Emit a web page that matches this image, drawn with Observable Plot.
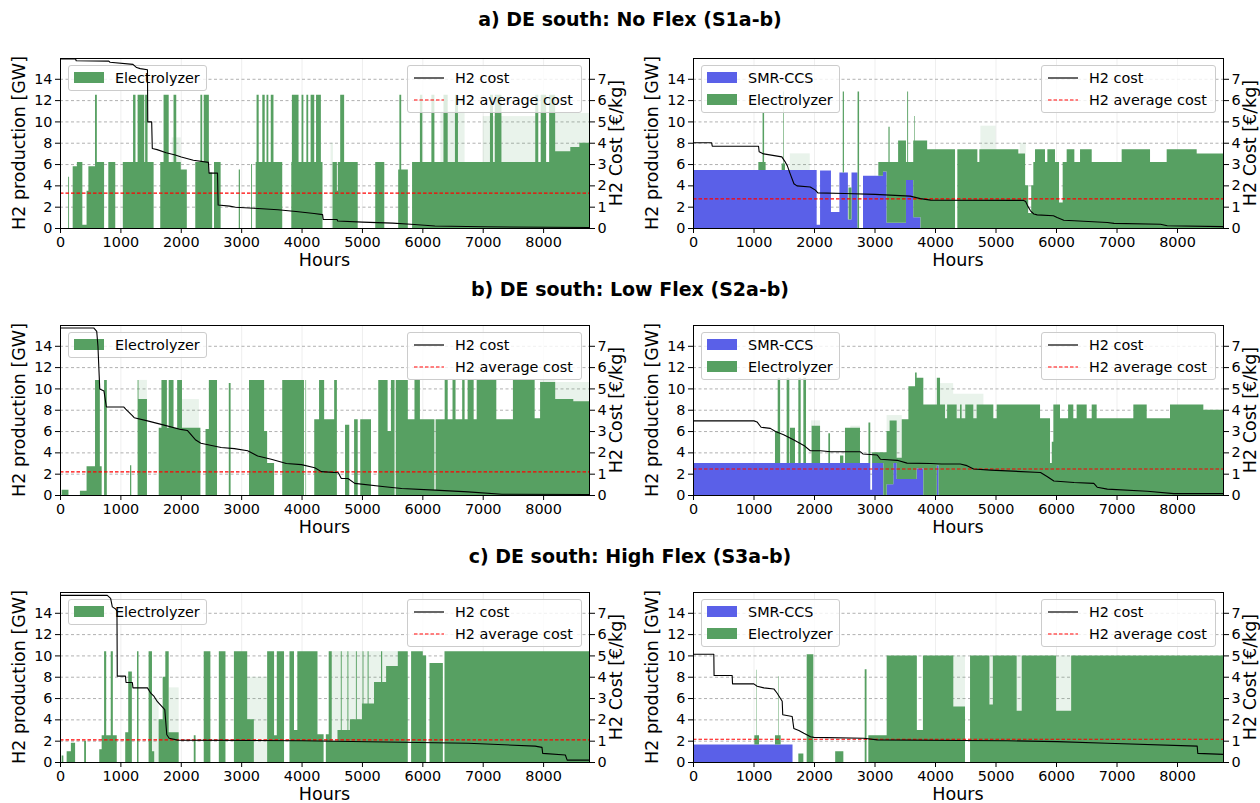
<!DOCTYPE html>
<html><head><meta charset="utf-8">
<script src="https://cdn.jsdelivr.net/npm/d3@7"></script>
<script src="https://cdn.jsdelivr.net/npm/@observablehq/plot@0.6"></script>
<style>
body{margin:0;background:#fff;}
#fig{position:relative;width:1260px;height:803px;overflow:hidden;font-family:"DejaVu Sans",sans-serif;color:#000;background:#fff;}
.title{position:absolute;left:0;width:1260px;text-align:center;font-weight:bold;font-size:19px;line-height:1;}
.ylab{position:absolute;font-size:17.5px;white-space:nowrap;transform:translate(-50%,-50%) rotate(-90deg);line-height:1;}
.xlab{position:absolute;font-size:17.5px;transform:translate(-50%,-50%);white-space:nowrap;line-height:1;}
.legend{position:absolute;background:rgba(255,255,255,0.8);border:1px solid #cccccc;border-radius:3px;box-sizing:border-box;font-size:14.4px;}
.legend .txt{position:absolute;white-space:nowrap;line-height:1;transform:translateY(-50%);}
.legend .patch{position:absolute;width:30px;height:11px;}
.legend svg{position:absolute;overflow:visible;}
</style>
</head><body>
<div id="fig"></div>
<script>
// ---------- axis / tick data ----------
const HOURS_MAX = 8760;
const GW_MAX = 15.95;
const COST_MAX = GW_MAX / 2;
const hourTicks = [0, 1000, 2000, 3000, 4000, 5000, 6000, 7000, 8000];
const gwTicks = [0, 2, 4, 6, 8, 10, 12, 14];
const costTicks = [0, 1, 2, 3, 4, 5, 6, 7];
const techs = ["SMR-CCS", "Electrolyzer"];
const techColors = ["rgb(90,96,232)", "rgb(87,160,98)"];
const titles = ["a) DE south: No Flex (S1a-b)", "b) DE south: Low Flex (S2a-b)", "c) DE south: High Flex (S3a-b)"];

// ---------- S1a (No Flex, electrolyzer only) : [hour, GW] step starts ----------
const s1aElectrolyzer = [[0,0],[135,4.8],[150,0],[210,5.8],[280,6.2],[370,0.3],[440,3.5],[470,5.8],[580,12.5],[610,6.2],[730,0],[800,6.2],[915,0],[1040,6.2],[1210,12.5],[1250,6.2],[1285,12.5],[1395,6.2],[1410,12.5],[1450,6.2],[1550,0],[1660,6.2],[1715,12.5],[1800,6.2],[1880,12.5],[1925,6.2],[2000,5.5],[2100,0],[2240,6.2],[2325,12.5],[2355,6.2],[2380,12.5],[2465,5.2],[2520,0],[2550,6.2],[2660,0],[2960,5.5],[2980,0],[3165,6.0],[3180,0],[3240,6.2],[3255,12.5],[3290,6.2],[3350,12.5],[3390,6.2],[3420,12.5],[3450,6.2],[3490,12.5],[3535,6.2],[3680,0],[3830,6.2],[3840,12.5],[3950,6.2],[4000,12.5],[4030,6.2],[4080,12.5],[4110,6.2],[4150,12.5],[4210,6.2],[4240,12.5],[4320,6.2],[4347,0],[4513,6.2],[4585,3.5],[4600,6.2],[4640,12.5],[4705,6.2],[4930,0],[5220,6.2],[5370,0],[5600,5.5],[5620,12.5],[5650,5.5],[5760,0],[5830,6.2],[5960,12.5],[6000,6.2],[6150,12.5],[6200,6.2],[6350,12.5],[6420,6.2],[6540,12.5],[6590,6.2],[7120,12.5],[7170,6.2],[7200,12.5],[7310,6.2],[7870,12.5],[7920,6.2],[7960,12.5],[8050,6.2],[8100,12.5],[8200,7.2],[8450,7.6],[8600,8.0]];
const s1aSMR = [[0,0]];
const s1aHaze = [[6300,6700,11],[7000,7900,10.5],[8200,8760,10.8],[1850,2000,8.5],[4480,4520,8]];
const s1aCost = [[0,7.95],[250,7.95],[260,7.87],[800,7.85],[820,7.8],[1200,7.7],[1260,7.55],[1320,7.5],[1440,7.45],[1445,5.0],[1510,5.0],[1520,3.75],[1600,3.7],[1750,3.55],[1900,3.45],[2000,3.35],[2200,3.2],[2450,3.1],[2460,2.6],[2600,2.6],[2610,1.1],[2800,1.05],[2900,1.0],[3200,0.95],[3600,0.88],[3900,0.8],[4200,0.7],[4340,0.65],[4350,0.43],[4580,0.42],[4590,0.35],[5000,0.3],[5500,0.25],[5800,0.2],[6200,0.12],[7000,0.08],[8760,0.05]];
const s1aAvg = 1.66;

// ---------- S1b ----------
const s1bSMR = [[0,5.45],[2044,0.3],[2100,5.4],[2280,1.5],[2420,5.2],[2560,0.8],[2620,5.2],[2720,0],[2810,4.9],[3140,5.3],[3200,0.5],[3520,4.5],[3640,1.0],[3760,0]];
const s1bElectrolyzer = [[0,0],[1080,0.75],[1150,5.35],[1175,0.75],[1200,0],[1465,0.6],[1490,7.35],[1500,0.6],[1520,0],[2475,7.6],[2495,0],[2570,3.0],[2620,0],[2720,12.8],[2745,0],[3063,1.3],[3140,0.9],[3200,5.7],[3230,9.0],[3250,5.7],[3390,7.7],[3520,1.7],[3540,8.3],[3555,1.7],[3640,7.2],[3655,9.5],[3665,7.2],[3760,8.2],[3870,7.4],[4331,0],[4369,7.4],[4700,6.2],[4733,7.4],[5377,7.0],[5488,4.0],[5540,1.4],[5590,4.0],[5625,6.2],[5653,7.4],[5818,6.2],[5857,7.4],[5983,6.2],[6050,2.4],[6110,6.2],[6176,7.4],[6303,6.2],[6397,7.4],[6590,6.2],[7085,7.4],[7554,6.2],[7829,7.4],[8325,7.0]];
const s1bHaze = [[4750,5000,9.6],[5400,5500,8],[1600,1930,7]];
const s1bCost = [[0,4.02],[300,4.02],[310,3.86],[1075,3.86],[1085,3.6],[1160,3.5],[1460,3.36],[1520,3.1],[1550,2.95],[1600,2.55],[1660,2.1],[1710,2.0],[1930,1.95],[2015,1.8],[2055,1.67],[2500,1.64],[3000,1.6],[3580,1.52],[3750,1.4],[3920,1.33],[5450,1.32],[5490,1.27],[5525,1.05],[5570,0.83],[5625,0.68],[5680,0.64],[5950,0.6],[6010,0.52],[6120,0.39],[6290,0.36],[6840,0.28],[6950,0.24],[7720,0.2],[7830,0.13],[8760,0.09]];
const s1bAvg = 1.39;

// ---------- S2a ----------
const s2aElectrolyzer = [[0,0],[28,0.5],[140,0],[330,0.4],[440,2.7],[580,10.8],[660,2.7],[690,0],[730,10.8],[775,0],[1160,2.8],[1180,0],[1285,10.8],[1300,9.0],[1440,0],[1635,6.3],[1680,10.8],[1770,6.3],[1800,10.8],[1880,6.3],[1940,10.8],[2020,6.3],[2325,0],[2410,6.2],[2465,10.8],[2600,0],[2795,10.5],[2825,0],[3130,10.8],[3380,6.0],[3430,3.0],[3545,0],[3680,10.8],[4040,0],[4065,10.8],[4075,0],[4210,7.1],[4290,10.8],[4374,7.1],[4540,10.8],[4585,0],[4720,6.6],[4790,0],[4870,7.1],[4930,0],[4972,7.1],[5150,0],[5270,10.8],[5425,6.0],[5480,10.8],[5540,0],[5560,10.8],[5760,7.1],[5870,10.8],[5960,7.1],[6200,0.5],[6220,7.1],[6370,10.8],[6420,7.1],[6500,10.8],[6550,7.1],[6660,10.8],[6700,7.1],[6750,10.8],[6850,7.1],[6900,10.8],[7225,7.1],[7500,10.8],[7860,7.2],[7950,10.6],[8200,9.0],[8500,8.8]];
const s2aSMR = [[0,0]];
const s2aHaze = [[1300,1440,10.8],[2020,2300,9],[7950,8200,10.8],[8200,8760,10.6]];
const s2aCost = [[0,7.86],[550,7.86],[600,7.7],[620,7.0],[650,5.0],[720,4.9],[760,4.15],[1050,4.15],[1080,4.05],[1190,3.75],[1220,3.65],[1440,3.5],[1716,3.3],[1990,3.1],[2100,3.05],[2240,2.6],[2325,2.45],[2660,2.25],[2880,2.2],[3100,2.1],[3265,1.85],[3490,1.7],[3740,1.5],[3990,1.45],[4210,1.3],[4320,1.12],[4600,1.07],[4650,0.8],[4760,0.8],[4873,0.57],[5370,0.41],[5650,0.33],[6200,0.25],[6750,0.17],[7310,0.06],[8760,0.05]];
const s2aAvg = 1.11;

// ---------- S2b ----------
const s2bSMR = [[0,3.0],[2930,0.5],[2960,3.0],[3146,0],[3200,1.0],[3311,3.0],[3366,1.5],[3697,2.5],[3807,0],[4030,2.8],[4060,0]];
const s2bElectrolyzer = [[0,0],[1355,3.0],[1400,8.0],[1440,0],[1548,8.0],[1592,0],[1603,3.3],[1686,0],[1741,8.0],[1780,0],[1824,8.0],[1868,0],[1961,3.5],[2100,0],[2237,2.8],[2265,0],[2430,0.7],[2485,0],[2512,3.3],[2760,0],[2900,3.8],[2930,0],[2960,1.0],[3146,4.0],[3200,5.0],[3250,6.0],[3311,4.0],[3366,2.0],[3450,5.6],[3560,8.7],[3670,10.0],[3697,8.5],[3807,8.5],[4030,8.2],[4060,11.0],[4083,8.5],[4165,7.2],[4200,8.5],[4358,7.2],[4413,8.5],[4440,7.2],[4500,8.5],[4633,7.2],[4688,8.5],[4964,7.2],[5019,8.5],[5736,7.2],[5901,3.0],[5930,5.0],[5956,8.5],[6066,7.2],[6200,8.5],[6286,7.2],[6341,8.5],[6507,7.2],[6590,8.5],[6672,7.2],[7278,8.5],[7499,7.2],[7884,8.5],[8435,8.0]];
const s2bHaze = [[4083,4300,10.5],[4300,4800,9.5],[1950,2100,7],[2600,2760,6.5],[3200,3450,7.5]];
const s2bCost = [[0,3.5],[1000,3.5],[1050,3.45],[1118,3.2],[1270,3.15],[1355,3.0],[1490,2.85],[1660,2.6],[1824,2.35],[1930,2.1],[2100,2.1],[2265,2.05],[2760,2.05],[2800,1.95],[3036,1.9],[3090,1.7],[3366,1.65],[3530,1.52],[3920,1.5],[4100,1.48],[4410,1.48],[4520,1.4],[4630,1.24],[4910,1.19],[5736,1.08],[5850,0.88],[5956,0.68],[6290,0.61],[6617,0.57],[6672,0.39],[6840,0.3],[7500,0.2],[7940,0.09],[8760,0.09]];
const s2bAvg = 1.24;

// ---------- S3a ----------
const s3aElectrolyzer = [[0,0],[28,0.6],[55,0],[110,1.0],[180,1.8],[250,0],[400,2.0],[430,0],[650,1.2],[690,2.5],[730,10.4],[765,2.5],[840,10.4],[875,2.5],[940,0],[1080,2.8],[1130,8.5],[1190,0],[1275,10.4],[1300,0],[1467,10.4],[1523,1.0],[1560,0],[1633,4.0],[1700,8.0],[1744,10.4],[1800,2.8],[1965,0],[2215,2.5],[2245,0],[2380,10.4],[2490,0],[2630,10.4],[2740,0],[2880,10.4],[3100,4.0],[3210,0],[3430,10.4],[3545,2.5],[3590,10.4],[3710,0],[3800,10.4],[3875,3.0],[3930,10.4],[4264,2.6],[4365,0],[4402,2.6],[4450,10.4],[4500,2.0],[4595,3.0],[4650,10.4],[4665,3.0],[4760,10.4],[4775,3.0],[4800,4.0],[4900,10.4],[4915,4.0],[5000,5.5],[5011,10.4],[5025,5.5],[5094,10.4],[5110,5.5],[5200,7.5],[5316,10.4],[5335,7.5],[5400,9.0],[5594,10.4],[5759,0],[5814,10.4],[6008,10.0],[6063,0],[6119,9.3],[6340,0],[6367,10.4]];
const s3aSMR = [[0,0]];
const s3aHaze = [[4450,5600,10.4],[3100,3430,8],[1523,1633,6],[1800,1965,7]];
const s3aCost = [[0,7.84],[775,7.84],[830,7.7],[858,7.3],[913,7.2],[935,7.1],[940,4.05],[1075,4.05],[1085,3.75],[1190,3.75],[1200,3.5],[1440,3.5],[1495,3.25],[1550,3.1],[1605,2.85],[1727,2.48],[1760,1.3],[1800,1.14],[1940,1.05],[4000,1.02],[6750,0.9],[7860,0.77],[7973,0.71],[7985,0.43],[8360,0.35],[8390,0.11],[8760,0.11]];
const s3aAvg = 1.06;

// ---------- S3b ----------
const s3bSMR = [[0,1.65],[1645,0]];
const s3bElectrolyzer = [[0,0],[1014,0.85],[1045,7.0],[1052,0.85],[1091,0],[1355,0.85],[1410,6.4],[1418,0.85],[1449,0],[1741,0.8],[1824,0],[1879,10.1],[1989,0],[2350,1.0],[2485,0],[2838,8.7],[2868,0],[2898,2.5],[3201,10.0],[3700,3.0],[3800,10.0],[4303,5.2],[4496,0],[4579,10.0],[4900,5.4],[4956,10.0],[5350,4.8],[5433,10.0],[6000,4.8],[6250,10.0]];
const s3bHaze = [[4303,4496,10],[4900,4956,10],[5350,5433,10],[6000,6250,10]];
const s3bCost = [[0,5.08],[336,5.08],[340,4.08],[639,4.08],[645,3.69],[997,3.69],[1052,3.58],[1163,3.5],[1328,3.45],[1383,3.25],[1466,2.87],[1475,2.24],[1631,2.16],[1658,1.6],[1741,1.5],[1824,1.37],[1934,1.21],[1989,1.18],[2815,1.14],[3036,1.06],[4413,1.03],[5184,1.02],[6011,0.98],[6837,0.9],[8325,0.77],[8335,0.43],[8760,0.38]];
const s3bAvg = 1.09;

// ---------- helpers ----------
function stepAt(steps, h) {
  let v = 0;
  for (const [s, val] of steps) { if (s <= h) v = val; else break; }
  return v;
}
function stackRows(smr, elec) {
  const bps = Array.from(new Set([...smr.map(d => d[0]), ...elec.map(d => d[0]), HOURS_MAX])).sort((a, b) => a - b);
  const rows = [];
  for (const h of bps) {
    rows.push({hour: h, tech: "SMR-CCS", value: stepAt(smr, h)});
    rows.push({hour: h, tech: "Electrolyzer", value: stepAt(elec, h)});
  }
  return rows;
}

const fig = document.getElementById("fig");
function el(tag, cls, style, text) {
  const e = document.createElement(tag);
  if (cls) e.className = cls;
  Object.assign(e.style, style || {});
  if (text != null) e.textContent = text;
  fig.appendChild(e);
  return e;
}
const SVGNS = "http://www.w3.org/2000/svg";

const W = 630, H = 225, MT = 10, MB = 45, FH = H - MT - MB;

function panel(cfg) {
  const {left, frameTop, ml, mr, smr, elec, haze, cost, avg, hasSMR} = cfg;
  const top = frameTop - MT;
  const fl = left + ml, fr = left + W - mr;
  const style = {fontFamily: "DejaVu Sans, sans-serif", fontSize: "14.4px", background: "transparent", color: "#000", overflow: "visible"};
  const rows = stackRows(smr, elec);
  const plotA = Plot.plot({
    width: W, height: H, marginLeft: ml, marginRight: mr, marginTop: MT, marginBottom: MB,
    style,
    x: {domain: [0, HOURS_MAX]},
    y: {domain: [0, GW_MAX]},
    color: {domain: techs, range: techColors},
    marks: [
      Plot.ruleX(hourTicks.slice(1), {stroke: "#b0b0b0", strokeOpacity: 0.25, strokeWidth: 0.8}),
      Plot.ruleY(gwTicks.slice(1), {stroke: "#a8a8a8", strokeDasharray: "3,2.5", strokeWidth: 0.9}),
      Plot.rect(haze, {x1: d => d[0], x2: d => d[1], y1: 0, y2: d => d[2], fill: techColors[1], fillOpacity: 0.13}),
      Plot.areaY(rows, {x: "hour", y: "value", z: "tech", fill: "tech", curve: "step-after", order: techs}),
      Plot.axisX({ticks: hourTicks, tickSize: 5, tickPadding: 3, tickFormat: d => String(d), label: null}),
      Plot.axisY({ticks: gwTicks, tickSize: 5, tickPadding: 3, tickFormat: d => String(d), label: null})
    ]
  });
  plotA.style.position = "absolute"; plotA.style.left = left + "px"; plotA.style.top = top + "px";
  fig.appendChild(plotA);

  // production legend (below the cost line, like matplotlib's twin axes)
  const n = hasSMR ? 2 : 1;
  const lg = el("div", "legend", {left: (fl + 8) + "px", top: (frameTop + 7) + "px", width: "139px", height: (n === 2 ? 48 : 26) + "px"});
  const items = hasSMR ? [0, 1] : [1];
  items.forEach((ti, i) => {
    const p = document.createElement("div"); p.className = "patch";
    Object.assign(p.style, {left: "5px", top: (6 + 22 * i) + "px", background: techColors[ti]});
    lg.appendChild(p);
    const t = document.createElement("div"); t.className = "txt"; t.textContent = techs[ti];
    Object.assign(t.style, {left: "46px", top: (12 + 22 * i) + "px"});
    lg.appendChild(t);
  });

  const plotB = Plot.plot({
    width: W, height: H, marginLeft: ml, marginRight: mr, marginTop: MT, marginBottom: MB,
    style,
    x: {domain: [0, HOURS_MAX], axis: null},
    y: {domain: [0, COST_MAX]},
    marks: [
      Plot.ruleY([avg], {stroke: "#ff0000", strokeDasharray: "3.5,2", strokeWidth: 1.1}),
      Plot.line(cost, {x: d => d[0], y: d => d[1], stroke: "#000", strokeWidth: 1.1}),
      Plot.frame({stroke: "#000", strokeWidth: 1}),
      Plot.axisY({anchor: "right", ticks: costTicks, tickSize: 5, tickPadding: 3, tickFormat: d => String(d), label: null})
    ]
  });
  plotB.style.position = "absolute"; plotB.style.left = left + "px"; plotB.style.top = top + "px";
  fig.appendChild(plotB);

  // cost legend
  const lg2 = el("div", "legend", {left: (fr - 7 - 175) + "px", top: (frameTop + 7) + "px", width: "175px", height: "48px"});
  [["H2 cost", null, "#000"], ["H2 average cost", "3.5,2", "#ff0000"]].forEach(([lab, ds, col], i) => {
    const s = document.createElementNS(SVGNS, "svg");
    s.setAttribute("width", "30"); s.setAttribute("height", "4");
    s.style.left = "6px"; s.style.top = (10 + 22 * i) + "px";
    const ln = document.createElementNS(SVGNS, "line");
    ln.setAttribute("x1", 0); ln.setAttribute("x2", 30); ln.setAttribute("y1", 2); ln.setAttribute("y2", 2);
    ln.setAttribute("stroke", col); ln.setAttribute("stroke-width", 1.2);
    if (ds) ln.setAttribute("stroke-dasharray", ds);
    s.appendChild(ln);
    lg2.appendChild(s);
    const t = document.createElement("div"); t.className = "txt"; t.textContent = lab;
    Object.assign(t.style, {left: "47px", top: (12 + 22 * i) + "px"});
    lg2.appendChild(t);
  });

  // axis labels
  const fb = frameTop + FH, fm = frameTop + FH / 2;
  el("div", "xlab", {left: ((fl + fr) / 2) + "px", top: (fb + 33) + "px"}, "Hours");
  el("div", "ylab", {left: (fl - 40) + "px", top: fm + "px"}, "H2 production [GW]");
  el("div", "ylab", {left: (fr + 28) + "px", top: fm + "px"}, "H2 Cost [€/kg]");
}

const rowTops = [58, 325, 592];
const titleY = [20, 290, 557];
titles.forEach((t, i) => el("div", "title", {top: (titleY[i] - 10) + "px"}, t));

const scen = [
  [{smr: s1aSMR, elec: s1aElectrolyzer, haze: s1aHaze, cost: s1aCost, avg: s1aAvg, hasSMR: false},
   {smr: s1bSMR, elec: s1bElectrolyzer, haze: s1bHaze, cost: s1bCost, avg: s1bAvg, hasSMR: true}],
  [{smr: s2aSMR, elec: s2aElectrolyzer, haze: s2aHaze, cost: s2aCost, avg: s2aAvg, hasSMR: false},
   {smr: s2bSMR, elec: s2bElectrolyzer, haze: s2bHaze, cost: s2bCost, avg: s2bAvg, hasSMR: true}],
  [{smr: s3aSMR, elec: s3aElectrolyzer, haze: s3aHaze, cost: s3aCost, avg: s3aAvg, hasSMR: false},
   {smr: s3bSMR, elec: s3bElectrolyzer, haze: s3bHaze, cost: s3bCost, avg: s3bAvg, hasSMR: true}]
];
scen.forEach((row, r) => {
  panel({...row[0], left: 0, frameTop: rowTops[r], ml: 60, mr: 41});
  panel({...row[1], left: 630, frameTop: rowTops[r], ml: 63, mr: 37});
});
</script>
</body></html>
